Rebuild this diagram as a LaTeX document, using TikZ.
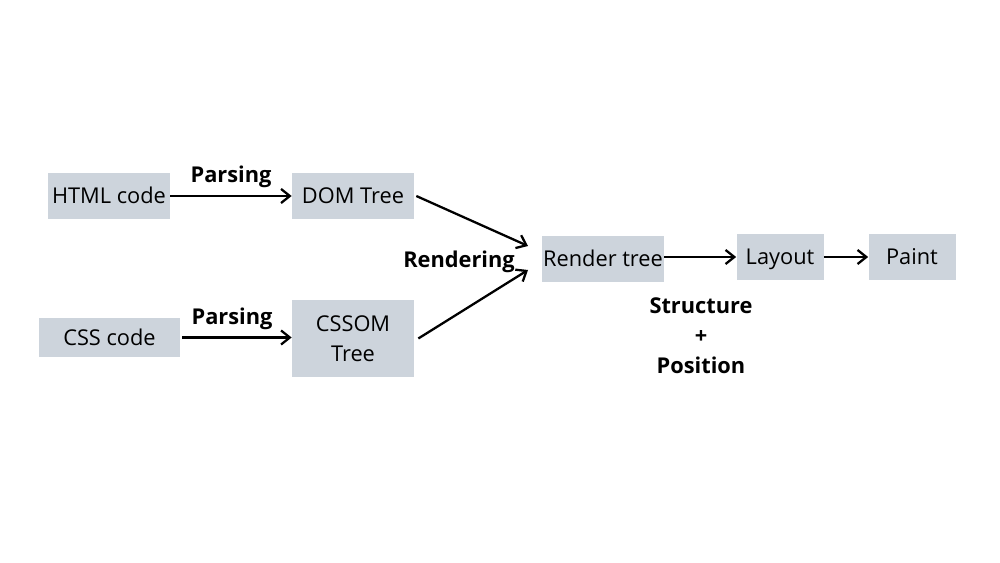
\documentclass[tikz,border=0pt]{standalone}
\usepackage{fontspec}
\setmainfont{Open Sans}
\usepackage{tikz}
\usetikzlibrary{arrows.meta, positioning}
\definecolor{boxgray}{HTML}{CDD4DC}

\begin{document}
\begin{tikzpicture}[x=0.02cm, y=-0.02cm,
  stage/.style={fill=boxgray, inner sep=0pt, minimum height=0.92cm,
                text height=8.9pt, text depth=0pt,
                font=\fontsize{12.4pt}{17pt}\selectfont},
  twoline/.style={stage, text height=, text depth=, align=center},
  flow/.style={line width=1.3pt, -{Straight Barb[length=5pt, width=8pt]}},
  tag/.style={font=\bfseries\fontsize{12.4pt}{17pt}\selectfont, align=center},
]
\useasboundingbox (0,0) rectangle (1000,563);

\node[stage, minimum width=2.44cm] (html) at (109,196) {HTML code};
\node[stage, minimum width=2.44cm] (dom) at (353,196) {DOM Tree};
\node[stage, minimum width=2.82cm, minimum height=0.78cm] (css) at (109.5,337.5) {CSS code};
\node[twoline, minimum width=2.44cm, minimum height=1.54cm] (cssom) at (353,338.5) {CSSOM\\Tree};
\node[stage, minimum width=2.44cm] (render) at (603,259) {Render tree};
\node[stage, minimum width=1.74cm] (layout) at (780,257) {Layout};
\node[stage, minimum width=1.74cm] (paint) at (912,257) {Paint};

\coordinate (rin1) at (528,246);
\coordinate (rin2) at (528,270);

\draw[flow] (html) -- node[tag, above=1pt]{Parsing} (dom);
\draw[flow] (css.east) ++(2,0) -- (cssom.west |- css.east);
\node[tag] (parse2) at (232,319) {Parsing};
\draw[flow] (dom.east) ++(2,0) -- (rin1);
\draw[flow] (cssom.east) ++(4,0) -- (rin2);
\node[tag] (rendering) at (459,262) {Rendering};
\draw[flow] (render.east |- layout.west) -- (layout.west);
\draw[flow] (layout) -- (paint);
\node[tag] (struct) at (701,336) {Structure\\+\\Position};

\end{tikzpicture}
\end{document}
